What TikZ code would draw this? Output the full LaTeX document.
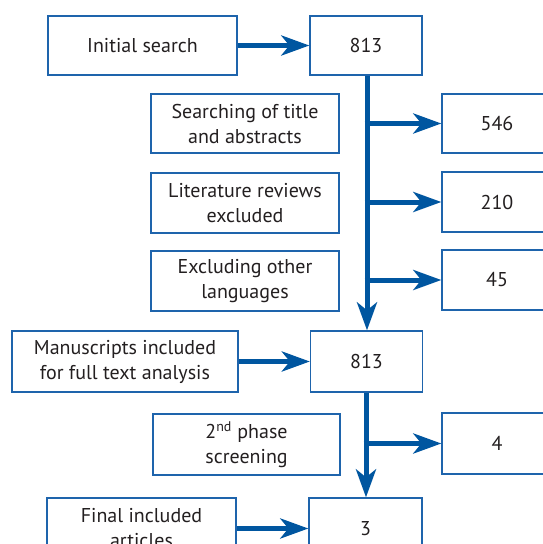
\documentclass[tikz,border=0pt]{standalone}
\usepackage{fontspec}
\setmainfont{PT Sans}
\usetikzlibrary{arrows.meta}
\definecolor{arrblue}{RGB}{0,86,160}
\definecolor{boxblue}{RGB}{30,100,172}
\definecolor{txt}{RGB}{35,31,32}
\tikzset{
  box/.style={draw=boxblue, line width=1.3pt, inner sep=0pt, align=center,
    minimum height=59pt, text=txt, font=\fontsize{20}{25}\selectfont},
  flow/.style={draw=arrblue, line width=5pt,
    -{Stealth[length=28pt,width=20pt,inset=8pt]}},
  plain/.style={draw=arrblue, line width=5pt}
}
\begin{document}
\begin{tikzpicture}[x=1pt,y=-1pt]
\useasboundingbox (0,0) rectangle (542,544);
\node[box, minimum width=189pt] (init) at (142.5,45.5) {Initial search};
\node[box, minimum width=112pt] (n1) at (366,45.5) {813};
\node[box, minimum width=188pt] (s1) at (245,123.5) {Searching of title\\and abstracts};
\node[box, minimum width=188pt, minimum height=60pt] (s2) at (245,203) {Literature reviews\\excluded};
\node[box, minimum width=188pt, minimum height=60pt] (s3) at (245,281) {Excluding other\\languages};
\node[box, minimum width=110pt] (r1) at (497,123.5) {546};
\node[box, minimum width=110pt, minimum height=60pt] (r2) at (497,202) {210};
\node[box, minimum width=110pt, minimum height=60pt] (r3) at (497,280) {45};
\node[box, minimum width=226pt, minimum height=61pt] (man) at (125,361.5) {Manuscripts included\\for full text analysis};
\node[box, minimum width=112pt, minimum height=61pt] (n2) at (366.5,361.5) {813};
\node[box, minimum width=187pt, minimum height=61pt] (ph) at (246.5,444.5) {2\textsuperscript{nd} phase\\screening};
\node[box, minimum width=110pt, minimum height=61pt] (r4) at (497,443.5) {4};
\node[box, minimum width=189pt, minimum height=61pt] (fin) at (141.5,528.5) {Final included\\articles};
\node[box, minimum width=113pt, minimum height=61pt] (n3) at (365.5,528.5) {3};

\draw[flow] (init.east) -- (n1.west);
\draw[flow] (n1.south -| 367,0) -- (n2.north -| 367,0);
\coordinate (b1) at (367,123.5);
\coordinate (b2) at (367,202);
\coordinate (b3) at (367,280);
\draw[flow] ([xshift=-2.5pt]b1) -- (r1.west);
\draw[flow] ([xshift=-2.5pt]b2) -- (r2.west);
\draw[flow] ([xshift=-2.5pt]b3) -- (r3.west);
\draw[flow] (man.east) -- (n2.west);
\draw[flow] (n2.south -| 366,0) -- (n3.north -| 366,0);
\coordinate (b4) at (366,443.5);
\draw[flow] ([xshift=-2.5pt]b4) -- (r4.west);
\draw[flow] (fin.east) -- (n3.west);
\end{tikzpicture}
\end{document}
